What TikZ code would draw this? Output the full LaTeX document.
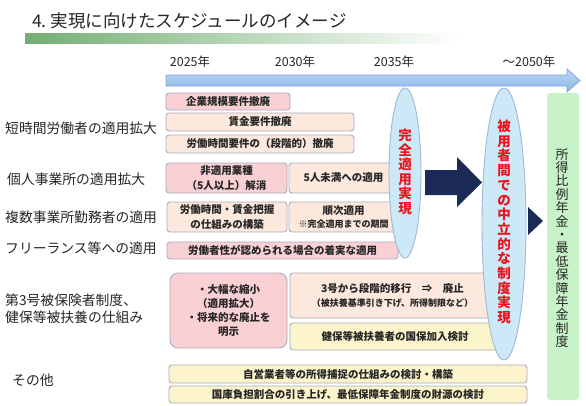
\documentclass[tikz,border=0pt]{standalone}
\usepackage{fontspec}
\setmainfont{Noto Sans CJK JP}
\usetikzlibrary{shapes.geometric}
\definecolor{pinkf}{HTML}{F9D0D4}
\definecolor{peachf}{HTML}{FCE8DC}
\definecolor{yelf}{HTML}{FCF5CC}
\definecolor{bxdraw}{HTML}{ABABBE}
\definecolor{ellf}{HTML}{CDE9F8}
\definecolor{elld}{HTML}{9DB9D8}
\definecolor{navy}{HTML}{1B2A57}
\definecolor{grnf}{HTML}{C8F2C8}
\definecolor{redt}{HTML}{E8141E}
\definecolor{arrtop}{HTML}{BCD7F4}
\definecolor{arrbot}{HTML}{8CB6E6}
\definecolor{arrd}{HTML}{7FA8D8}
\definecolor{gbar}{HTML}{74AE74}
\definecolor{txt}{HTML}{262626}
\begin{document}
\begin{tikzpicture}[x=1pt,y=-1pt,
 bx/.style={draw=bxdraw, line width=0.9pt, rounded corners=3pt, inner sep=0pt, align=center,
   font=\fontsize{10.5}{13}\selectfont\bfseries, text=txt},
 pinkbx/.style={bx, fill=pinkf},
 peachbx/.style={bx, fill=peachf},
 yelbx/.style={bx, fill=yelf},
 lbl/.style={anchor=west, inner sep=0pt, align=left, font=\fontsize{13.8}{17}\selectfont, text=txt},
 yr/.style={inner sep=0pt, font=\fontsize{12.5}{14}\selectfont, text=txt},
 ell/.style={ellipse, draw=elld, fill=ellf, line width=0.9pt, inner sep=0pt},
 vt/.style={inner sep=0pt, align=center, text=redt, font=\fontsize{13.5}{14.5}\selectfont\bfseries},
]
\useasboundingbox (0,0) rectangle (586,405);
\fill[white] (0,0) rectangle (586,405);

% title
\node[anchor=west, inner sep=0pt, font=\fontsize{17.5}{20}\selectfont, text=txt] (title) at (32,21) {4.\ 実現に向けたスケジュールのイメージ};
\shade[left color=gbar, right color=white] (25,33) rectangle (460,43);

% years
\node[yr] (y25) at (190,62) {2025年};
\node[yr] (y30) at (295,62) {2030年};
\node[yr] (y35) at (394,62) {2035年};
\node[yr] (y50) at (529,62) {～2050年};

% timeline arrow
\path[draw=arrd, line width=0.8pt, top color=arrtop, bottom color=arrbot]
  (166,75) -- (567,75) -- (567,69) -- (580,80.5) -- (567,92) -- (567,86) -- (166,86) -- cycle;

% left labels
\node[lbl] (l1) at (5,128) {短時間労働者の適用拡大};
\node[lbl] (l2) at (7,179) {個人事業所の適用拡大};
\node[lbl] (l3) at (5,217) {複数事業所勤務者の適用};
\node[lbl] (l4) at (5,248) {フリーランス等への適用};
\node[lbl] (l5) at (5,308.5) {第3号被保険者制度、\\健保等被扶養の仕組み};
\node[lbl] (l6) at (12,380) {その他};

% boxes
\node[pinkbx, minimum width=124, minimum height=17] (b1) at (228,101.5) {企業規模要件撤廃};
\node[peachbx, minimum width=188, minimum height=18] (b2) at (260,122) {賃金要件撤廃};
\node[peachbx, minimum width=188, minimum height=18] (b3) at (260,144) {労働時間要件の（段階的）撤廃};
\node[pinkbx, minimum width=121, minimum height=30, font=\fontsize{10.5}{15}\selectfont\bfseries] (b4) at (226.5,178) {非適用業種\\（5人以上）解消};
\node[peachbx, minimum width=109, minimum height=30] (b5) at (343.5,178) {5人未満への適用};
\node[peachbx, minimum width=120, minimum height=30, font=\fontsize{10.5}{15}\selectfont\bfseries] (b6) at (227,217) {労働時間・賃金把握\\の仕組みの構築};
\node[peachbx, minimum width=109, minimum height=30, font=\fontsize{10.5}{13}\selectfont\bfseries] (b7) at (343.5,217) {順次適用\\{\fontsize{9}{11}\selectfont ※完全適用までの期間}};
\node[pinkbx, minimum width=231, minimum height=17] (b8) at (282.5,250.5) {労働者性が認められる場合の着実な適用};
\node[pinkbx, rounded corners=8pt, minimum width=117, minimum height=75, font=\fontsize{10.5}{14}\selectfont\bfseries] (b9) at (228.5,310.5) {・大幅な縮小\\（適用拡大）\\・将来的な廃止を\\明示};
\node[peachbx, minimum width=205, minimum height=45, font=\fontsize{10.5}{14}\selectfont\bfseries] (b10) at (392.5,295.5) {3号から段階的移行　⇒　廃止\\{\fontsize{9}{11}\selectfont （被扶養基準引き下げ、所得制限など）}};
\node[yelbx, minimum width=210, minimum height=27] (b11) at (395,336.5) {健保等被扶養者の国保加入検討};
\node[yelbx, minimum width=358, minimum height=18] (b12) at (348,374) {自営業者等の所得捕捉の仕組みの検討・構築};
\node[yelbx, minimum width=358, minimum height=17] (b13) at (348,394.5) {国庫負担割合の引き上げ、最低保障年金制度の財源の検討};

% ellipses
\node[ell, minimum width=32, minimum height=170] (e1) at (405,173) {};
\node[ell, minimum width=44, minimum height=272] (e2) at (504,224) {};
\node[vt] (t1) at (405,172) {完\\全\\適\\用\\実\\現};
\node[vt, font=\fontsize{13.5}{14.7}\selectfont\bfseries] (t2) at (504,222) {被\\用\\者\\間\\で\\の\\中\\立\\的\\な\\制\\度\\実\\現};

% green box
\node[fill=grnf, rounded corners=3pt, minimum width=32, minimum height=307, inner sep=0pt] (g) at (563,246.5) {};
\node[inner sep=0pt, align=center, text=txt, font=\fontsize{13}{13.4}\selectfont] (gt) at (562,248) {所\\得\\比\\例\\年\\金\\・\\最\\低\\保\\障\\年\\金\\制\\度};

% navy arrows
\fill[navy] (425,170) -- (457,170) -- (457,157) -- (482,182.5) -- (457,207) -- (457,195) -- (425,195) -- cycle;
\fill[navy] (528,207) -- (543,221) -- (528,235) -- cycle;
\end{tikzpicture}
\end{document}
